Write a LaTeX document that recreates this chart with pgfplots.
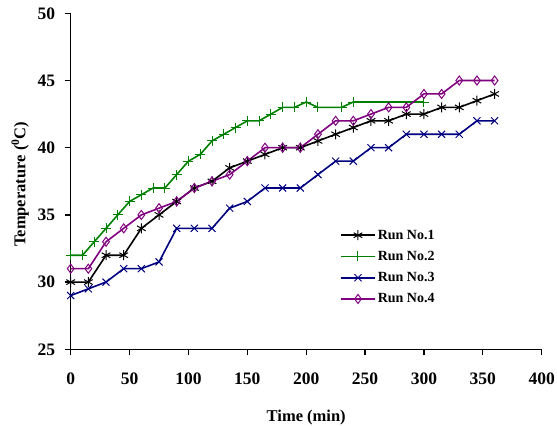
\documentclass[border=0pt]{standalone}
\usepackage{pgfplots}
\pgfplotsset{compat=1.18}
\usepackage{fontspec}
\setmainfont{Liberation Serif}
\definecolor{rgreen}{RGB}{0,128,0}
\definecolor{rblue}{RGB}{0,0,128}
\definecolor{rpurple}{RGB}{128,0,128}
\begin{document}
\begin{tikzpicture}
\useasboundingbox (-70.7bp,-76.7bp) rectangle (486.3bp,349.3bp);
\begin{axis}[
  scale only axis,
  width=471bp, height=336bp,
  xmin=0, xmax=400, ymin=25, ymax=50,
  xtick={0,50,...,400}, ytick={25,30,...,50},
  axis x line*=bottom, axis y line*=left,
  axis line style={line width=1.3bp, black, -},
  tick align=outside,
  major tick length=6bp,
  tick style={line width=1.3bp, black},
  /pgf/number format/assume math mode=true,
  ticklabel style={font=\fontsize{17.5bp}{20bp}\selectfont\bfseries},
  xticklabel style={yshift=-14bp},
  yticklabel style={xshift=-6bp},
  xlabel={\bfseries Time (min)},
  ylabel={\bfseries Temperature (\textsuperscript{0}C)},
  label style={font=\fontsize{16.5bp}{19bp}\selectfont},
  xlabel style={at={(axis description cs:0.5,0)}, anchor=center, yshift=-68bp},
  ylabel style={at={(axis description cs:0,0.5)}, anchor=center, rotate=0, yshift=50.5bp, xshift=-3bp},
  legend style={at={(axis cs:228.7,34.05)}, anchor=north west, draw=none, fill=none,
    font=\fontsize{14bp}{16bp}\selectfont\bfseries, row sep=6.5bp, inner sep=0pt},
  legend cell align=left,
  legend image code/.code={\draw[mark repeat=2,mark phase=2] plot coordinates {(0bp,0bp) (17bp,0bp) (34bp,0bp)};},
  every axis plot/.append style={line width=1.6bp, mark options={solid, line width=1bp}},
]
\addplot[color=black, mark=asterisk, mark size=5bp] coordinates {
(0,30) (15,30) (30,32) (45,32) (60,34) (75,35) (90,36) (105,37) (120,37.5) (135,38.5)
(150,39) (165,39.5) (180,40) (195,40) (210,40.5) (225,41) (240,41.5) (255,42) (270,42)
(285,42.5) (300,42.5) (315,43) (330,43) (345,43.5) (360,44)};
\addlegendentry{Run No.1}
\addplot[color=rgreen, mark=+, mark size=5bp] coordinates {
(0,32) (10,32) (20,33) (30,34) (40,35) (50,36) (60,36.5) (70,37) (80,37) (90,38)
(100,39) (110,39.5) (120,40.5) (130,41) (140,41.5) (150,42) (160,42) (170,42.5) (180,43)
(190,43) (200,43.4) (210,43) (230,43) (240,43.4) (300,43.4)};
\addlegendentry{Run No.2}
\addplot[color=rblue, mark=x, mark size=5bp] coordinates {
(0,29) (15,29.5) (30,30) (45,31) (60,31) (75,31.5) (90,34) (105,34) (120,34) (135,35.5)
(150,36) (165,37) (180,37) (195,37) (210,38) (225,39) (240,39) (255,40) (270,40)
(285,41) (300,41) (315,41) (330,41) (345,42) (360,42)};
\addlegendentry{Run No.3}
\addplot[color=rpurple, mark=diamond, mark size=4.5bp] coordinates {
(0,31) (15,31) (30,33) (45,34) (60,35) (75,35.5) (90,36) (105,37) (120,37.5) (135,38)
(150,39) (165,40) (180,40) (195,40) (210,41) (225,42) (240,42) (255,42.5) (270,43)
(285,43) (300,44) (315,44) (330,45) (345,45) (360,45)};
\addlegendentry{Run No.4}
\end{axis}
\end{tikzpicture}
\end{document}
